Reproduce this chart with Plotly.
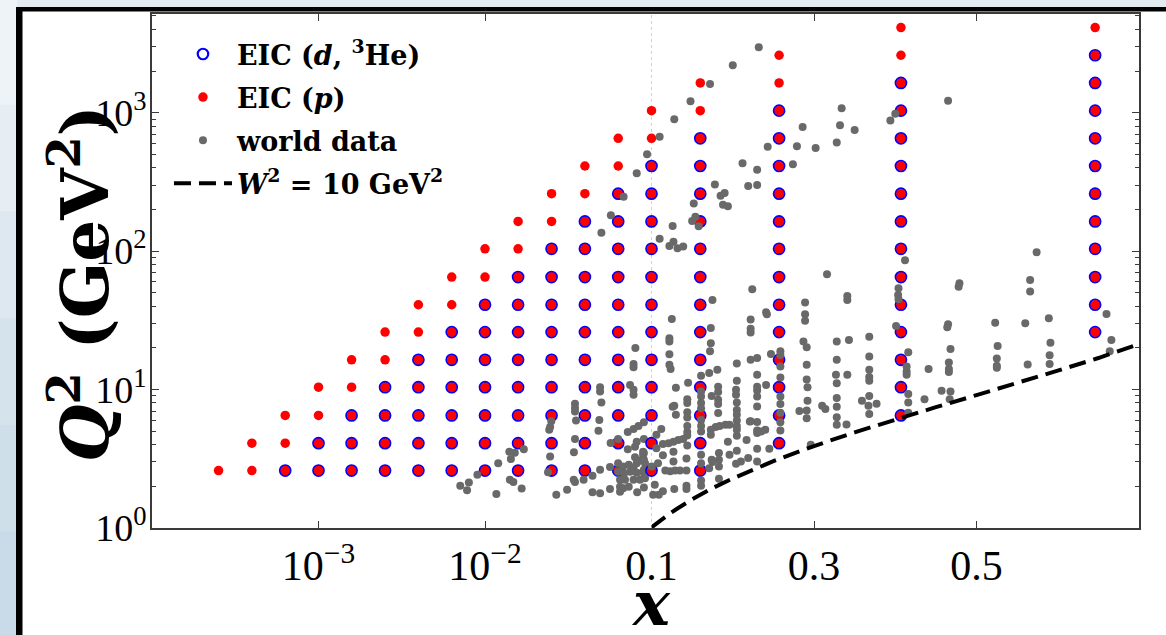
import plotly.graph_objects as go

# ---------------- data ----------------
# EIC pseudo-data grid
q2_bins = [2.6, 4.1, 6.5, 10.4, 16.4, 26, 41, 65, 104, 164, 260, 412, 653, 1035, 1640, 2600, 4120]
eic_x = [0.000251, 0.000398, 0.000631, 0.001, 0.00158, 0.00251, 0.00398, 0.00631,
         0.01, 0.0158, 0.0251, 0.0398, 0.0631, 0.1, 0.16, 0.257, 0.407, 0.646]
eic_row_min = [0, 0, 0, 0, 0, 0, 0, 0, 0, 0, 0, 0, 0, 0, 0, 1, 2, 5]
eic_p_row_max = [0, 1, 2, 3, 4, 5, 6, 7, 8, 9, 10, 11, 12, 13, 14, 15, 16, 16]
eic_d_row_max = [-2, -1, 0, 1, 2, 3, 4, 5, 6, 7, 8, 9, 10, 11, 12, 13, 14, 15]

# world data (x, Q2)
world_x = [
    0.050, 0.057, 0.068, 0.0815, 0.094, 0.080, 0.078, 0.078, 0.0743, 0.078,
    0.078, 0.0491, 0.0491, 0.050, 0.0347, 0.0347, 0.0347, 0.0352, 0.0486, 0.048,
    0.025, 0.0246, 0.0243, 0.0347, 0.0342, 0.0246, 0.0171, 0.0151, 0.0140, 0.0143,
    0.0120, 0.0090, 0.0080, 0.0071, 0.0078, 0.0117, 0.0141, 0.0148, 0.0166, 0.0268,
    0.0311, 0.0341, 0.0347, 0.0391, 0.0442, 0.0239, 0.0491, 0.0563, 0.0568, 0.063,
    0.072, 0.078, 0.0835, 0.072, 0.0796, 0.089, 0.089, 0.0796, 0.0853, 0.063,
    0.0675, 0.073, 0.078, 0.0815, 0.0914, 0.063, 0.0684, 0.0743, 0.0815, 0.089,
    0.0647, 0.0693, 0.078, 0.0853, 0.0647, 0.0676, 0.073, 0.0563, 0.0491, 0.0442,
    0.082, 0.0647, 0.0914, 0.0815, 0.090, 0.090, 0.090, 0.090, 0.090, 0.090,
    0.090,
    0.110, 0.110, 0.128, 0.148, 0.172, 0.200, 0.232, 0.212, 0.230, 0.219,
    0.230, 0.243, 0.178, 0.185, 0.190, 0.188, 0.194, 0.152, 0.150, 0.154,
    0.158, 0.126, 0.127, 0.122, 0.132, 0.139, 0.274, 0.279, 0.286, 0.302,
    0.328, 0.332, 0.334, 0.350, 0.394, 0.400, 0.465, 0.574, 0.412, 0.316,
    0.404, 0.4035, 0.404, 0.401, 0.416, 0.414, 0.414, 0.414, 0.416, 0.416,
    0.416, 0.441, 0.436, 0.457, 0.468, 0.467, 0.479, 0.478, 0.465, 0.464,
    0.468, 0.466, 0.466, 0.466, 0.523, 0.526, 0.525, 0.525, 0.525, 0.566,
    0.566, 0.560, 0.563, 0.589, 0.591, 0.590, 0.590, 0.660, 0.666, 0.664,
    0.224, 0.175, 0.125, 0.241, 0.242, 0.222, 0.222, 0.222, 0.173, 0.173,
    0.172, 0.122, 0.122, 0.122, 0.122, 0.1235, 0.289, 0.289, 0.289, 0.287,
    0.291, 0.291, 0.291, 0.292, 0.292, 0.291, 0.291, 0.296, 0.341, 0.341,
    0.343, 0.341, 0.328, 0.328, 0.327, 0.328, 0.328, 0.328, 0.328, 0.328,
    0.340, 0.310, 0.314, 0.282, 0.368, 0.368, 0.368, 0.368, 0.368, 0.368,
    0.367, 0.368, 0.377, 0.359, 0.2586, 0.2586, 0.2586, 0.2586, 0.2586, 0.2586,
    0.2586, 0.2586, 0.2586, 0.247, 0.241, 0.230, 0.222, 0.230, 0.230, 0.230,
    0.230, 0.230, 0.230, 0.230, 0.230, 0.230, 0.230, 0.222, 0.240, 0.245,
    0.219, 0.210, 0.204, 0.196, 0.205, 0.205, 0.204, 0.204, 0.205, 0.205,
    0.205, 0.205, 0.205, 0.205, 0.205, 0.205, 0.181, 0.171, 0.182, 0.182,
    0.182, 0.182, 0.182, 0.174, 0.184, 0.179, 0.173, 0.173, 0.183, 0.183,
    0.183, 0.174, 0.175, 0.171, 0.183, 0.161, 0.161, 0.161, 0.161, 0.161,
    0.161, 0.161, 0.161, 0.161, 0.161, 0.161, 0.161, 0.145, 0.130, 0.144,
    0.144, 0.128, 0.126, 0.144, 0.144, 0.130, 0.144, 0.144, 0.144, 0.144,
    0.139, 0.133, 0.127, 0.121, 0.114, 0.127, 0.143, 0.127, 0.114, 0.135,
    0.129, 0.123, 0.117, 0.143, 0.143, 0.143, 0.128, 0.114, 0.109, 0.102,
    0.112, 0.108, 0.191, 0.196, 0.194, 0.221, 0.235, 0.217, 0.104, 0.1003,
    0.106, 0.106,
]
world_q2 = [
    136, 182, 247, 366, 500, 20.0, 15.3, 14.5, 10.8, 9.95,
    9.16, 10.4, 9.67, 8.05, 7.9, 7.35, 6.93, 5.97, 6.04, 5.04,
    5.9, 5.37, 5.12, 4.4, 3.53, 3.28, 3.71, 3.5, 3.55, 3.15,
    2.94, 2.42, 2.13, 2.02, 1.87, 1.76, 2.23, 2.15, 1.93, 1.74,
    1.89, 2.23, 2.15, 2.23, 2.38, 2.53, 2.63, 2.76, 4.11, 4.4,
    4.94, 5.2, 5.45, 3.71, 3.86, 3.55, 3.38, 3.25, 3.07, 2.94,
    2.78, 2.86, 2.74, 2.94, 2.94, 2.55, 2.49, 2.55, 2.51, 2.55,
    2.23, 2.23, 2.23, 2.23, 1.99, 1.94, 1.99, 1.91, 1.78, 1.81,
    1.81, 1.83, 2.29, 4.2, 5.8, 4.4, 3.48, 3.11, 2.63, 2.3,
    1.96,
    670, 123, 895, 1210, 1610, 2200, 2970, 431, 387, 295,
    300, 568, 303, 251, 263, 216, 211, 221, 165, 177,
    151, 152, 117, 109, 105, 108, 425, 572, 789, 556,
    608, 813, 1075, 750, 880, 982, 1220, 98, 86, 68,
    54, 48.3, 45, 28.8, 18.6, 14.7, 13.5, 12.8, 9.3, 8.05,
    6.8, 14.1, 8.5, 9.8, 9.7, 8.5, 58.7, 55.4, 29.6, 28.2,
    19.6, 15.7, 14.1, 13.4, 30.4, 20.6, 16.8, 14.85, 14.4, 61.9,
    51, 30.1, 15.2, 32.8, 21.8, 17.7, 15.3, 35.2, 22.8, 18.9,
    53.1, 44.4, 32.3, 36.2, 35.0, 32.1, 27.5, 25.8, 27.8, 21.6,
    18.9, 23.5, 22.2, 18.0, 15.1, 14.1, 42.5, 35.0, 31.4, 22.2,
    20.2, 15.1, 11.8, 10.4, 8.3, 7.05, 6.2, 4.0, 47.5, 44.4,
    22.8, 12.8, 22.2, 16.4, 12.8, 11.1, 8.7, 7.5, 6.3, 5.56,
    5.6, 7.65, 7.25, 7.0, 24.1, 17.3, 13.9, 12.3, 11.6, 9.0,
    7.65, 6.65, 7.9, 8.3, 18.9, 17.8, 14.7, 12.2, 8.9, 7.85,
    6.8, 5.8, 5.06, 18.1, 10.8, 16.9, 16.4, 12.8, 10.5, 9.84,
    8.9, 7.53, 5.82, 5.06, 4.85, 3.73, 3.02, 5.9, 5.12, 3.73,
    3.2, 3.02, 2.91, 3.38, 15.4, 11.6, 9.95, 9.16, 8.05, 7.13,
    6.57, 5.97, 5.45, 5.12, 4.63, 3.61, 13.9, 13.2, 10.5, 9.6,
    8.43, 7.85, 6.76, 9.0, 5.45, 5.37, 5.12, 4.71, 3.48, 3.11,
    2.78, 3.11, 3.0, 2.7, 2.27, 12.6, 9.67, 8.9, 8.0, 7.34,
    6.04, 5.45, 4.97, 3.38, 2.94, 2.2, 2.02, 11.2, 10.3, 8.53,
    8.0, 7.65, 7.5, 6.85, 6.28, 6.57, 5.45, 4.94, 4.65, 3.94,
    4.4, 4.33, 4.2, 4.1, 4.05, 3.55, 3.18, 3.02, 3.35, 2.6,
    2.6, 2.57, 2.6, 2.6, 2.02, 1.91, 1.91, 1.84, 1.74, 1.74,
    5.2, 2.94, 5.56, 5.56, 4.2, 5.87, 4.97, 4.33, 2.05, 2.78,
    3.77, 4.71,
]
assert len(world_x) == len(world_q2)

# W^2 = 10 GeV^2 boundary
w2_x = [0.100, 0.110, 0.120, 0.130, 0.150, 0.175, 0.20, 0.25, 0.30, 0.35, 0.40, 0.45, 0.50, 0.55, 0.60, 0.65, 0.70]
w2_q2 = [1.01, 1.13, 1.24, 1.36, 1.61, 1.94, 2.28, 3.04, 3.91, 4.91, 6.08, 7.46, 9.12, 11.1, 13.7, 16.9, 21.3]

x_ticks_log = [1e-3, 1e-2]
x_ticktext_log = ["10<sup>\u22123</sup>", "10<sup>\u22122</sup>"]
x_ticks_lin = [0.1, 0.3, 0.5]
x_ticktext_lin = ["0.1", "0.3", "0.5"]
y_ticks = [1, 10, 100, 1000]
y_ticktext = ["10<sup>0</sup>", "10<sup>1</sup>", "10<sup>2</sup>", "10<sup>3</sup>"]
y_minor = [m * d for d in (1, 10, 100, 1000) for m in range(2, 10) if m * d < 5200]

# ---------------- build point sets ----------------
p_pts, d_pts = [], []
for i, xv in enumerate(eic_x):
    for r in range(eic_row_min[i], eic_p_row_max[i] + 1):
        p_pts.append((xv, q2_bins[r]))
    for r in range(eic_row_min[i], eic_d_row_max[i] + 1):
        d_pts.append((xv, q2_bins[r]))
w_pts = list(zip(world_x, world_q2))


def part(pts, low):
    sel = [pt for pt in pts if (pt[0] < 0.1) == low]
    return [pt[0] for pt in sel], [pt[1] for pt in sel]


fig = go.Figure()

SERIF = "DejaVu Serif"

def add_points(pts, name, group, marker, rank):
    for low in (True, False):
        xs, ys = part(pts, low)
        fig.add_trace(go.Scatter(
            x=xs, y=ys, mode="markers", name=name, marker=marker,
            xaxis="x" if low else "x2", yaxis="y" if low else "y2",
            legendgroup=group, showlegend=not low, legendrank=rank,
            cliponaxis=False, hoverinfo="skip"))

add_points(d_pts, "<b>EIC (<i>d</i>, <sup>3</sup>He)</b>", "d",
           dict(symbol="circle-open", size=10.5, color="#0000ff", line=dict(width=2.2, color="#0000ff")), 1)
add_points(p_pts, "<b>EIC (<i>p</i>)</b>", "p",
           dict(symbol="circle", size=9.5, color="#ff0000"), 2)
add_points(w_pts, "<b>world data</b>", "w",
           dict(symbol="circle", size=8, color="#696969"), 3)

fig.add_trace(go.Scatter(
    x=w2_x, y=w2_q2, mode="lines", name="<b><i>W</i><sup>2</sup> = 10 GeV<sup>2</sup></b>",
    line=dict(color="black", width=4, dash="17px,8px"), legendgroup="w2",
    xaxis="x2", yaxis="y2", legendrank=4, cliponaxis=False, hoverinfo="skip"))

# ---------------- layout ----------------
axis_common = dict(showline=True, linecolor="#3a3a3a", linewidth=1.5, ticks="inside",
                   tickcolor="#3a3a3a", ticklen=7, tickwidth=1.2, showgrid=False,
                   zeroline=False)
XFONT = dict(family="Liberation Serif", size=42, color="black")
YFONT = dict(family="Liberation Serif", size=38, color="black")
SPLIT = 0.5061

fig.update_layout(
    width=1166, height=635,
    margin=dict(l=152, r=27, t=14, b=107),
    paper_bgcolor="#e2ebf2", plot_bgcolor="white",
    xaxis=dict(type="log", range=[-4, -1], domain=[0, SPLIT], anchor="y", tickfont=XFONT,
               tickvals=x_ticks_log, ticktext=x_ticktext_log, mirror="ticks", **axis_common),
    xaxis2=dict(type="linear", range=[0.1, 0.7], domain=[SPLIT, 1], anchor="y2", tickfont=XFONT,
                tickvals=x_ticks_lin, ticktext=x_ticktext_lin, mirror="ticks", **axis_common),
    yaxis=dict(type="log", range=[0, 3.713], anchor="x", tickvals=y_ticks, ticktext=y_ticktext,
               tickfont=YFONT, ticklabelstandoff=-4,
               minor=dict(ticks="inside", ticklen=4, tickvals=y_minor, tickcolor="#3a3a3a"),
               **axis_common),
    yaxis2=dict(type="log", range=[0, 3.713], anchor="x2", side="right", tickvals=y_ticks,
                showticklabels=False,
                minor=dict(ticks="inside", ticklen=4, tickvals=y_minor, tickcolor="#3a3a3a"),
                **axis_common),
    legend=dict(x=0.0172, y=0.969, xanchor="left", yanchor="top", bgcolor="rgba(0,0,0,0)",
                font=dict(family=SERIF, size=27, color="black"), itemwidth=58,
                traceorder="grouped", tracegroupgap=5),
    showlegend=True,
)

# page frame: background strips, white sheet, black bars
def px2x(px):
    return (px - 152) / 987.0

def py2y(py):
    return (528 - py) / 514.0

shapes = []
grad = ["#eef3f7", "#e6eef4", "#dde8f0", "#d5e3ed", "#cfdfea", "#c9dbe8"]
for i, c in enumerate(grad):
    shapes.append(dict(type="rect", xref="paper", yref="paper", layer="below",
                       x0=px2x(-2), x1=px2x(17), y0=py2y(640 * (i + 1) / 6 + 2), y1=py2y(640 * i / 6 - 2),
                       fillcolor=c, line=dict(width=0)))
shapes.append(dict(type="rect", xref="paper", yref="paper", layer="below",
                   x0=px2x(22), x1=px2x(1175), y0=py2y(645), y1=py2y(11),
                   fillcolor="white", line=dict(width=0)))
shapes.append(dict(type="rect", xref="paper", yref="paper", layer="below",
                   x0=px2x(16), x1=px2x(1175), y0=py2y(11.5), y1=py2y(7),
                   fillcolor="black", line=dict(width=0)))
shapes.append(dict(type="rect", xref="paper", yref="paper", layer="below",
                   x0=px2x(16), x1=px2x(22.5), y0=py2y(645), y1=py2y(7),
                   fillcolor="black", line=dict(width=0)))
shapes.append(dict(type="line", xref="x2", yref="paper", x0=0.1, x1=0.1, y0=0, y1=1,
                   layer="below", line=dict(color="#a0a0a0", width=1, dash="dot")))
fig.update_layout(shapes=shapes)

fig.add_annotation(text="<b><i>Q</i><sup>2</sup> (GeV<sup>2</sup>)</b>", xref="paper", yref="paper",
                   x=px2x(80), y=py2y(284), xanchor="center", yanchor="middle",
                   textangle=-90, showarrow=False,
                   font=dict(family=SERIF, size=66, color="black"))
fig.add_annotation(text="<b><i>x</i></b>", xref="paper", yref="paper",
                   x=px2x(651), y=py2y(603), xanchor="center", yanchor="middle", showarrow=False,
                   font=dict(family=SERIF, size=62, color="black"))

fig.write_html("out.html", config={"displayModeBar": False},
               post_script="document.body.style.margin='0px';")
